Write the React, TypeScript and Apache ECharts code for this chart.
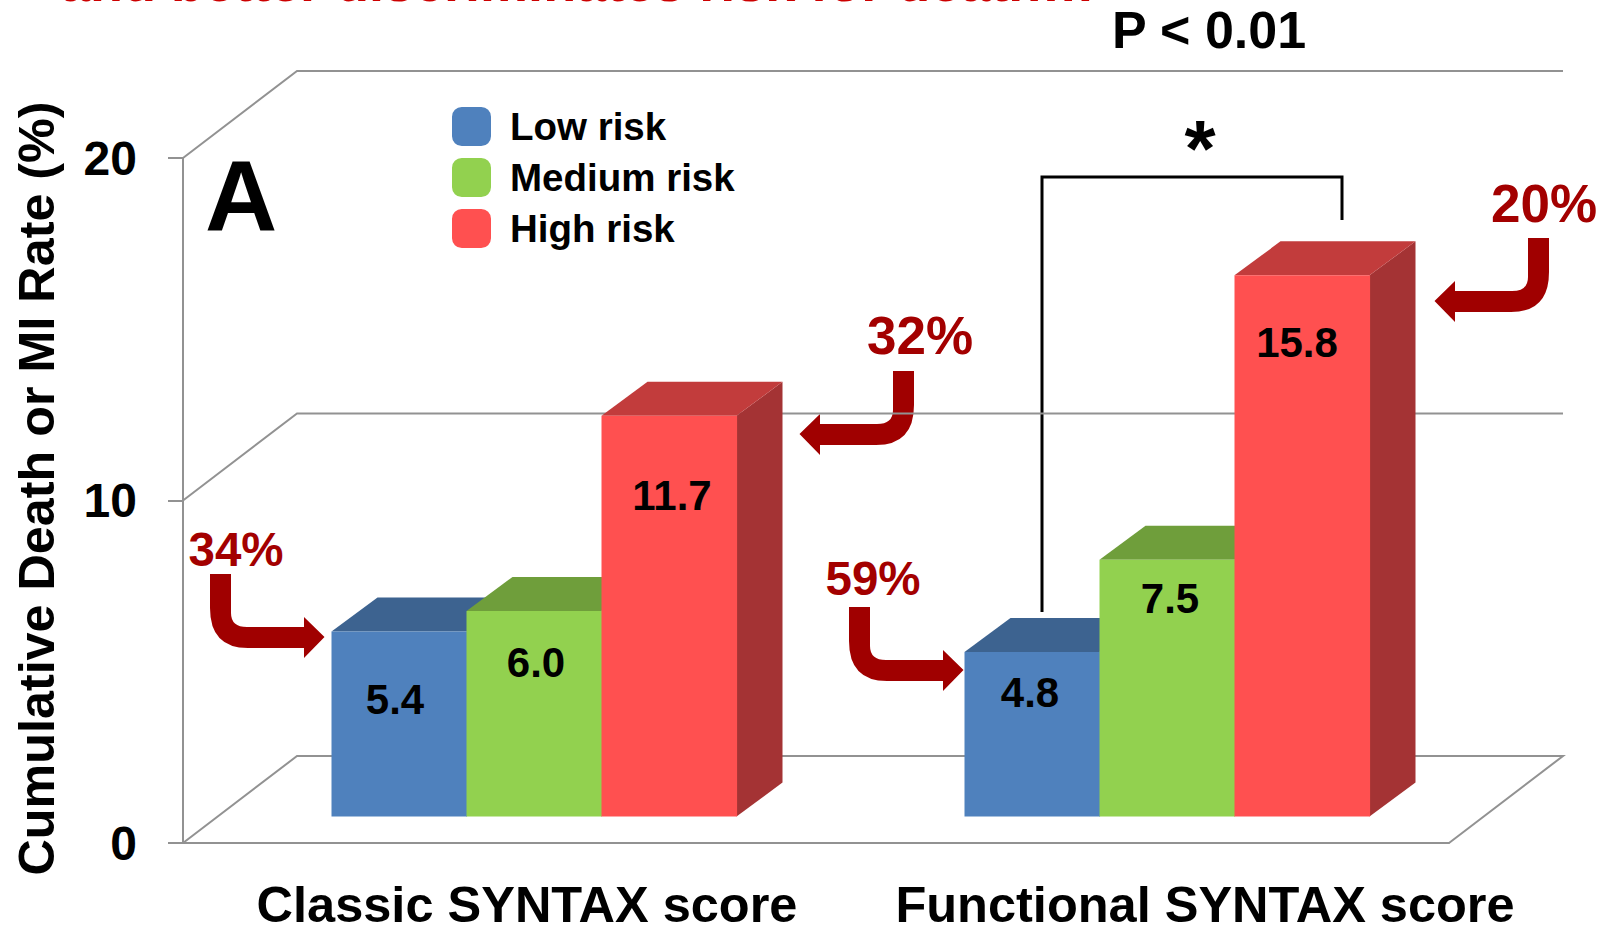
import React, { useEffect, useRef } from "react";
import * as echarts from "echarts";

// ---- data ----
const categories = ["Classic SYNTAX score", "Functional SYNTAX score"];
const lowRisk = [5.4, 4.8];
const mediumRisk = [6.0, 7.5];
const highRisk = [11.7, 15.8];
const yTicks = [0, 10, 20];
const seriesNames = ["Low risk", "Medium risk", "High risk"];

// ---- layout & style ----
const FONT = '"Liberation Sans", Arial, sans-serif';
const colors = [
  { front: "#4f81bd", top: "#3d6390", side: "#3d6390" },
  { front: "#92d14f", top: "#6f9e3b", side: "#6f9e3b" },
  { front: "#ff5050", top: "#c23c3c", side: "#a43334" },
];
const BAR_W = 135;
const SHIFT = [34.5, 26.5]; // bars stand this far inside the floor
const DEPTH = [46, 34];
const WALL = [114, 87];
// hand placed value labels: drop below the bar top and horizontal nudge
const labelDrop = [
  [68, 40],
  [51, 39],
  [80, 67],
];
const labelNudge = [
  [-4, -2],
  [2, 3],
  [3, -5],
];

const makeBar = (si: number) => (params: any, api: any) => {
  const c = api.coord([api.value(0), api.value(1)]);
  const base = api.coord([api.value(0), 0]);
  const cx = c[0] + SHIFT[0] + (si - 1) * BAR_W;
  const x0 = cx - BAR_W / 2;
  const x1 = cx + BAR_W / 2;
  const yt = c[1] - SHIFT[1];
  const yb = base[1] - SHIFT[1];
  const i = params.dataIndex;
  const col = colors[si];
  const [dx, dy] = DEPTH;
  return {
    type: "group",
    children: [
      {
        type: "polygon",
        shape: { points: [[x1, yt], [x1 + dx, yt - dy], [x1 + dx, yb - dy], [x1, yb]] },
        style: { fill: col.side },
      },
      {
        type: "polygon",
        shape: { points: [[x0, yt], [x0 + dx, yt - dy], [x1 + dx, yt - dy], [x1, yt]] },
        style: { fill: col.top },
      },
      { type: "rect", shape: { x: x0, y: yt, width: BAR_W + 0.6, height: yb - yt }, style: { fill: col.front } },
      {
        type: "text",
        style: {
          text: api.value(1).toFixed(1),
          x: cx + labelNudge[si][i],
          y: yt + labelDrop[si][i],
          align: "center",
          verticalAlign: "middle",
          font: `bold 42px ${FONT}`,
          fill: "#000",
        },
      },
    ],
  };
};

const wallRender = (params: any, api: any) => {
  const y = api.coord([0, api.value(1)])[1];
  const x0 = params.coordSys.x;
  const x1 = x0 + params.coordSys.width;
  const pts = [[x0, y], [x0 + WALL[0], y - WALL[1]], [x1 + WALL[0], y - WALL[1]]];
  if (api.value(1) === 0) pts.push([x1, y]);
  return {
    type: "polyline",
    shape: { points: pts },
    style: { stroke: "#929292", lineWidth: 2, fill: "none" },
  };
};

const ARROW =
  "M0 0 L21 0 L21 39 Q21 53 37 53 L94 53 L94 43 L114.5 63 L94 84 L94 74 L38 74 Q0 74 0 34 Z";
echarts.graphic.registerShape("bentArrow", echarts.graphic.extendPath(ARROW, {}) as any);

const arrowStyle = { fill: "#a00000" };
const pct = (text: string, x: number, y: number, size: number) => ({
  type: "text",
  x,
  y,
  style: {
    text,
    font: `bold ${size}px ${FONT}`,
    fill: "#a30000",
    align: "center",
    verticalAlign: "middle",
  },
});

export default function App() {
  const ref = useRef<HTMLDivElement>(null);
  useEffect(() => {
    const chart = echarts.init(ref.current!, undefined, { renderer: "svg" });
    const grid = { top: 158, height: 685, outerBoundsMode: "none" };
    chart.setOption({
      animation: false,
      backgroundColor: "#fff",
      legend: {
        left: 452,
        top: 107,
        orient: "vertical",
        data: seriesNames,
        icon: "roundRect",
        itemWidth: 39,
        itemHeight: 39,
        itemGap: 12,
        padding: 0,
        textStyle: { fontFamily: FONT, fontWeight: "bold", fontSize: 38.5, color: "#000", padding: [0, 0, 4, 14] },
      },
      grid: [
        { left: 183, width: 1266, ...grid },
        { left: 188, width: 1356, ...grid },
      ],
      xAxis: [
        {
          gridIndex: 0,
          type: "category",
          data: categories,
          axisLine: { show: true, lineStyle: { color: "#929292", width: 2 } },
          axisTick: { show: false },
          axisLabel: { show: false },
        },
        {
          gridIndex: 1,
          type: "category",
          data: categories,
          axisLine: { show: false },
          axisTick: { show: false },
          axisLabel: {
            show: true,
            interval: 0,
            margin: 46,
            lineHeight: 30,
            fontFamily: FONT,
            fontWeight: "bold",
            fontSize: 50.5,
            color: "#000",
          },
        },
      ],
      yAxis: [
        {
          gridIndex: 0,
          type: "value",
          min: 0,
          max: 20,
          interval: 10,
          name: "Cumulative Death or MI Rate (%)",
          nameLocation: "middle",
          nameRotate: 90,
          nameGap: 122,
          nameTextStyle: { fontFamily: FONT, fontWeight: "bold", fontSize: 50.3, color: "#000", padding: [0, 0, 0, 24] },
          axisLine: { show: true, lineStyle: { color: "#929292", width: 2 } },
          axisTick: { show: true, length: 15, lineStyle: { color: "#929292", width: 2 } },
          axisLabel: { margin: 46, fontFamily: FONT, fontWeight: "bold", fontSize: 48, color: "#000", padding: [0, 0, 3, 0] },
          splitLine: { show: false },
        },
        {
          gridIndex: 1,
          type: "value",
          min: 0,
          max: 20,
          interval: 10,
          axisLine: { show: false },
          axisTick: { show: false },
          axisLabel: { show: false },
          splitLine: { show: false },
        },
      ],
      series: [
        {
          type: "custom",
          name: "walls",
          xAxisIndex: 0,
          yAxisIndex: 0,
          silent: true,
          clip: false,
          renderItem: wallRender,
          encode: { x: 0, y: 1 },
          data: yTicks.map((v) => [0, v]),
        },
        ...[lowRisk, mediumRisk, highRisk].map((vals, si) => ({
          type: "custom",
          name: seriesNames[si],
          xAxisIndex: 0,
          yAxisIndex: 0,
          clip: false,
          itemStyle: { color: colors[si].front },
          renderItem: makeBar(si),
          encode: { x: 0, y: 1 },
          data: vals.map((v, i) => [i, v]),
        })),
      ],
      graphic: [
        {
          type: "text",
          x: 60,
          y: -18,
          style: {
            text: "and better discriminates risk for death…",
            font: `bold 54px ${FONT}`,
            fill: "#cc0000",
            verticalAlign: "middle",
          },
        },
        {
          type: "text",
          x: 1209,
          y: 30,
          style: { text: "P < 0.01", font: `bold 52px ${FONT}`, fill: "#000", align: "center", verticalAlign: "middle" },
        },
        {
          type: "text",
          x: 241,
          y: 196,
          style: { text: "A", font: `bold 100px ${FONT}`, fill: "#000", align: "center", verticalAlign: "middle" },
        },
        {
          type: "text",
          x: 1200,
          y: 148,
          style: { text: "*", font: `bold 80px ${FONT}`, fill: "#000", align: "center", verticalAlign: "middle" },
        },
        {
          type: "polyline",
          shape: { points: [[1042, 612], [1042, 177], [1342, 177], [1342, 220]] },
          style: { stroke: "#000", lineWidth: 3, fill: "none" },
        },
        pct("34%", 236, 549, 47.5),
        pct("59%", 873, 578, 47.5),
        pct("32%", 920, 335, 53),
        pct("20%", 1544, 203, 53),
        { type: "bentArrow", x: 210, y: 574, style: arrowStyle },
        { type: "bentArrow", x: 849, y: 607, style: arrowStyle },
        { type: "bentArrow", x: 914, y: 371, scaleX: -1, style: arrowStyle },
        { type: "bentArrow", x: 1549, y: 238, scaleX: -1, style: arrowStyle },
      ],
    });
    return () => chart.dispose();
  }, []);
  return <div ref={ref} style={{ position: "absolute", left: 0, top: 0, width: 1604, height: 926 }} />;
}
